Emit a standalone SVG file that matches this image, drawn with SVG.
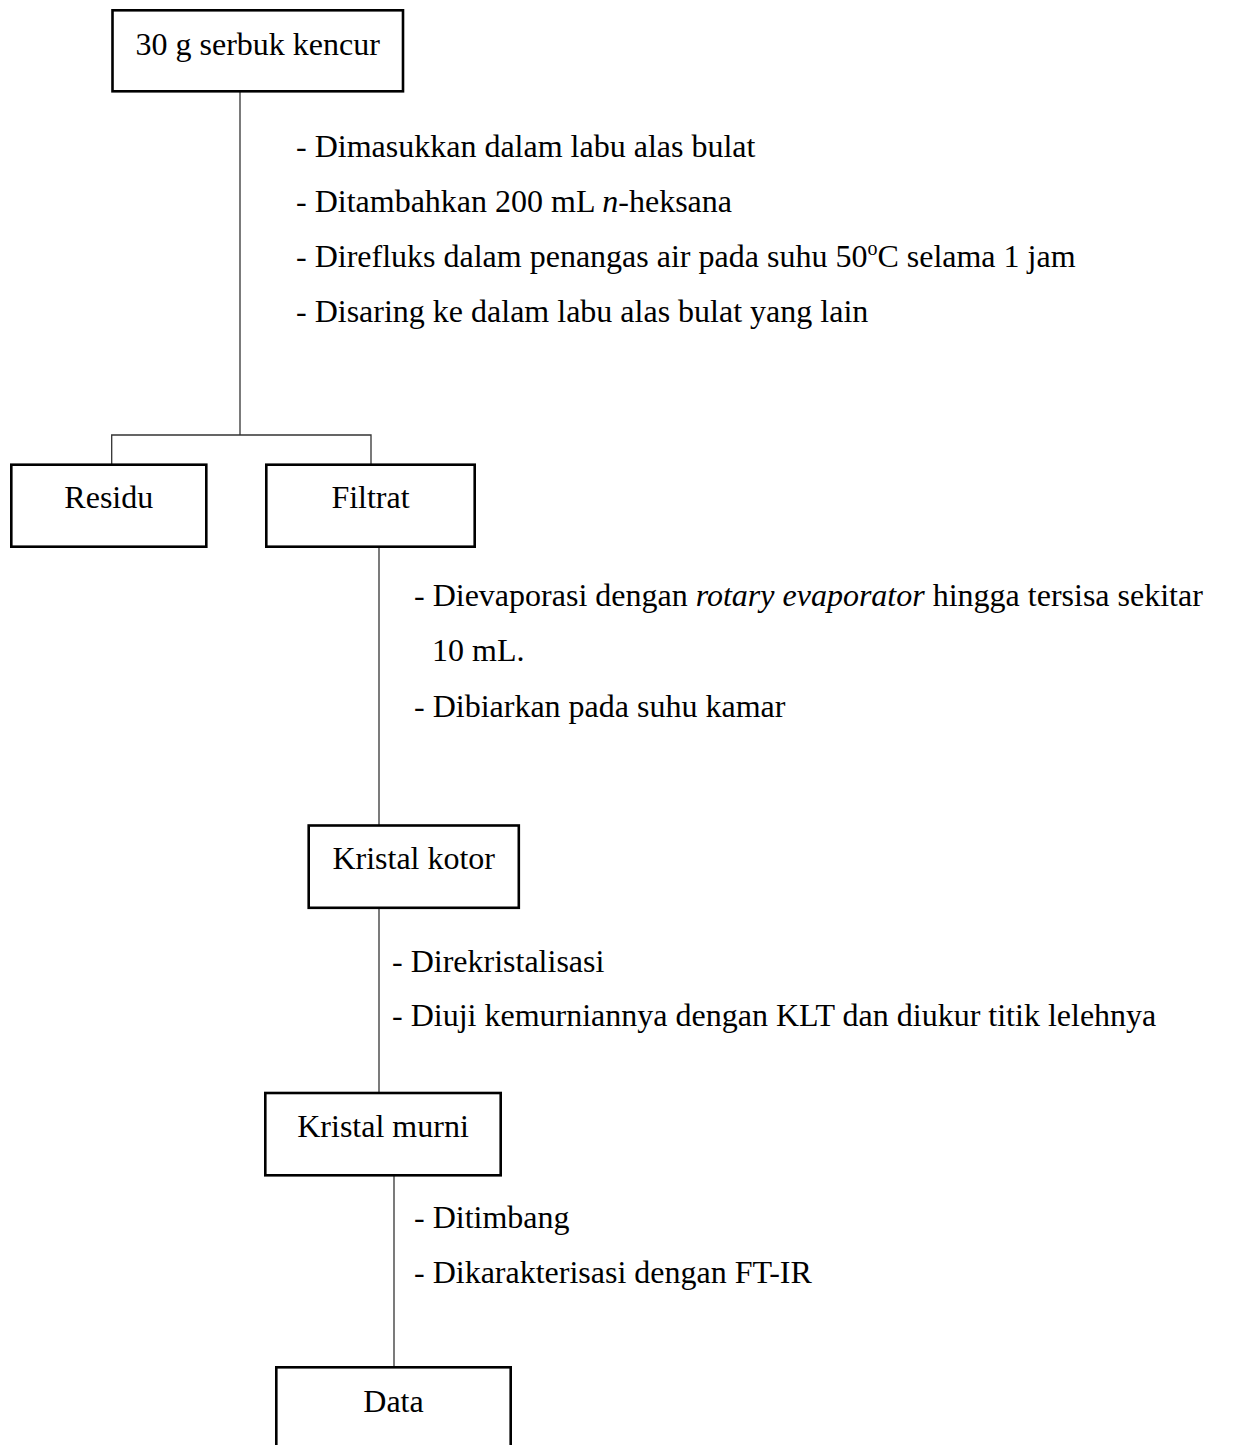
<svg xmlns="http://www.w3.org/2000/svg" width="1234" height="1445" viewBox="0 0 1234 1445">
<style>
.box{fill:#fff;stroke:#000;stroke-width:2.6}
.t{font-family:"Liberation Serif","Times New Roman",serif;font-size:32px;fill:#000}
.c{text-anchor:middle}
.ln{stroke:#333;stroke-width:1.3;fill:none}
</style>
<rect width="1234" height="1445" fill="#fff"/>
<g id="connectors">
<line class="ln" x1="240" y1="91" x2="240" y2="435"/>
<polyline class="ln" points="111.7,464 111.7,435 371,435 371,464"/>
<line class="ln" x1="379" y1="547" x2="379" y2="825"/>
<line class="ln" x1="379" y1="908" x2="379" y2="1093"/>
<line class="ln" x1="394" y1="1175" x2="394" y2="1367"/>
</g>
<g id="node-serbuk">
<rect class="box" x="112.5" y="10.3" width="290.5" height="81"/>
<text class="t c" x="257.7" y="55">30 g serbuk kencur</text>
</g>
<g id="steps-1">
<text class="t" x="296" y="157">- Dimasukkan dalam labu alas bulat</text>
<text class="t" x="296" y="212">- Ditambahkan 200 mL <tspan font-style="italic">n</tspan>-heksana</text>
<text class="t" x="296" y="267">- Direfluks dalam penangas air pada suhu 50<tspan font-size="20" dy="-12">o</tspan><tspan dy="12">C selama 1 jam</tspan></text>
<text class="t" x="296" y="322">- Disaring ke dalam labu alas bulat yang lain</text>
</g>
<g id="node-residu">
<rect class="box" x="11.3" y="464.7" width="195" height="82"/>
<text class="t c" x="108.8" y="507.5">Residu</text>
</g>
<g id="node-filtrat">
<rect class="box" x="266.3" y="464.7" width="208.4" height="82"/>
<text class="t c" x="370.5" y="507.5">Filtrat</text>
</g>
<g id="steps-2">
<text class="t" x="414" y="606">- Dievaporasi dengan <tspan font-style="italic">rotary evaporator</tspan> hingga tersisa sekitar</text>
<text class="t" x="432" y="661">10 mL.</text>
<text class="t" x="414" y="717">- Dibiarkan pada suhu kamar</text>
</g>
<g id="node-kotor">
<rect class="box" x="308.7" y="825.5" width="210.1" height="82.3"/>
<text class="t c" x="413.7" y="869">Kristal kotor</text>
</g>
<g id="steps-3">
<text class="t" x="392" y="972">- Direkristalisasi</text>
<text class="t" x="392" y="1026">- Diuji kemurniannya dengan KLT dan diukur titik lelehnya</text>
</g>
<g id="node-murni">
<rect class="box" x="265.3" y="1093" width="235.4" height="82.3"/>
<text class="t c" x="383" y="1136.7">Kristal murni</text>
</g>
<g id="steps-4">
<text class="t" x="414" y="1228">- Ditimbang</text>
<text class="t" x="414" y="1283">- Dikarakterisasi dengan FT-IR</text>
</g>
<g id="node-data">
<rect class="box" x="276.3" y="1367.3" width="234.4" height="100"/>
<text class="t c" x="393.5" y="1411.7">Data</text>
</g>
</svg>
